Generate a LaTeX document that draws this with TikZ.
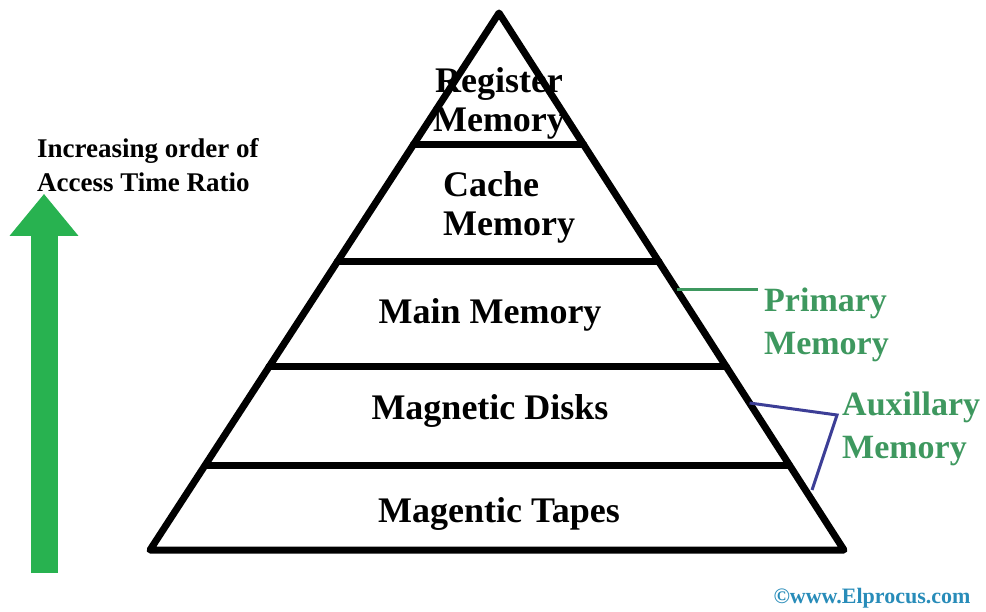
\documentclass[tikz,border=0pt]{standalone}
\usepackage{fontspec}
\setmainfont{Liberation Serif}
\usetikzlibrary{positioning,arrows.meta,calc}
\definecolor{arrgreen}{RGB}{40,178,80}
\definecolor{labgreen}{RGB}{62,152,95}
\definecolor{brblue}{RGB}{60,62,150}
\definecolor{cpblue}{RGB}{40,140,185}

\begin{document}
\begin{tikzpicture}[x=1pt, y=-1pt,
  edge/.style={line width=7pt, line join=round, line cap=round},
  level/.style={font=\fontsize{36}{39}\selectfont\bfseries, align=center, inner sep=0pt},
  side/.style={font=\fontsize{34}{43}\selectfont\bfseries, text=labgreen, align=left, anchor=west, inner sep=0pt},
  bracket/.style={line width=3pt},
  up/.style={-{Triangle[length=42pt, width=66pt]}, line width=27pt, arrgreen}
]
\useasboundingbox (0,0) rectangle (986,612);
% edge x at height y (slopes 349/537 and 345/537)
\def\lx#1{{499-0.6499*(#1-13)}}
\def\rx#1{{499+0.6425*(#1-13)}}
% level texts
\node[level] (reg) at (499,103) {Register\\Memory};
\node[level, align=left, anchor=west] (cache) at (443,207) {Cache\\Memory};
\node[level] (main) at (490,315) {Main Memory};
\node[level] (disk) at (490,411) {Magnetic Disks};
\node[level] (tape) at (499,514) {Magentic Tapes};
% pyramid
\coordinate (apex) at (499,13);
\coordinate (bl) at (150,550);
\coordinate (br) at (844,550);
\draw[edge] (bl) -- (apex) -- (br) -- cycle;
\foreach \y/\n in {145/a,262/b,367/c,465/d}{
  \coordinate (\n l) at (\lx{\y},\y);
  \coordinate (\n r) at (\rx{\y},\y);
  \draw[edge] (\n l) -- (\n r);
}
% primary / auxillary
\node[side] (prim) at (764,325) {Primary\\Memory};
\node[side] (aux) at (842,429) {Auxillary\\Memory};
\coordinate (p1) at (\rx{290},290);
\draw[bracket, labgreen] (p1) -- ($(p1 -| prim.west)+(-6,0)$);
\coordinate (a1) at (\rx{403},403);
\coordinate (a2) at (837,415);
\coordinate (a3) at (812,490);
\draw[bracket, brblue] (a1) -- (a2) -- (a3);
% access time arrow
\node[anchor=west, align=left, inner sep=0pt, font=\fontsize{27}{34}\selectfont\bfseries] (ratio) at (37,165) {Increasing order of\\Access Time Ratio};
\coordinate (tail) at (44,573);
\draw[up] (tail) -- ($(tail |- ratio.south)+(0,2)$);
% credit
\node[font=\fontsize{22}{24}\selectfont\bfseries, text=cpblue] (credit) at (872,598) {©www.Elprocus.com};
\end{tikzpicture}
\end{document}
